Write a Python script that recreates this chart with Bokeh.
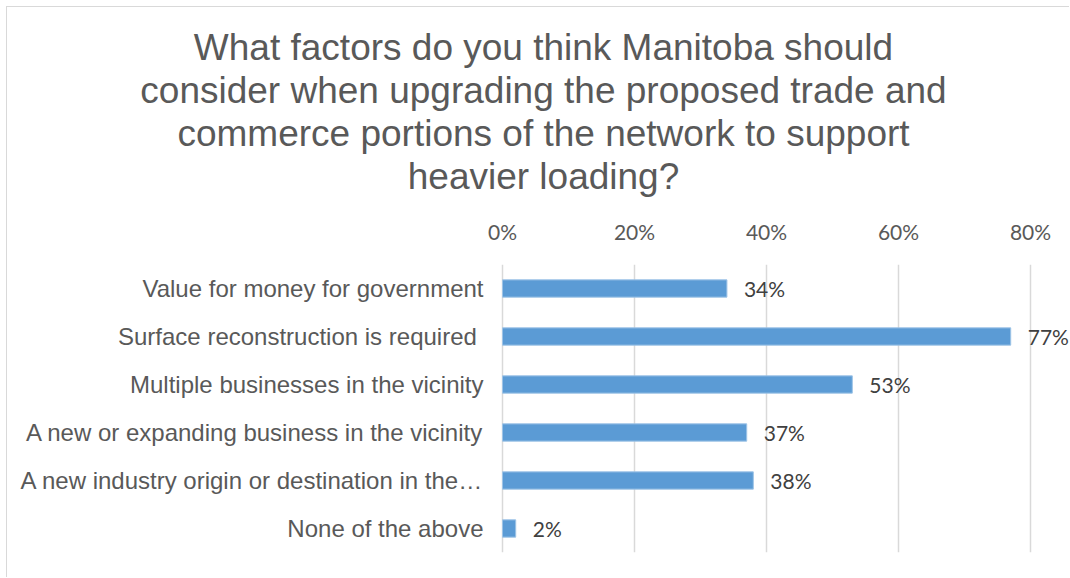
from bokeh.plotting import figure
from bokeh.models import FactorRange, FixedTicker, Range1d, Title
from bokeh.embed import file_html
from bokeh.resources import INLINE
from bokeh.core.properties import value

title_lines = [
    "What factors do you think Manitoba should",
    "consider when upgrading the proposed trade and",
    "commerce portions of the network to support",
    "heavier loading?",
]
categories = [
    "Value for money for government",
    "Surface reconstruction is required ",
    "Multiple businesses in the vicinity",
    "A new or expanding business in the vicinity",
    "A new industry origin or destination in the\u2026",
    "None of the above",
]
values = [34, 77, 53, 37, 38, 2]
value_labels = [f"{v}%" for v in values]
tick_values = [0, 20, 40, 60, 80]
tick_labels = ["0%", "20%", "40%", "60%", "80%"]

p = figure(
    width=1063, height=571,
    y_range=FactorRange(factors=list(reversed(categories)), range_padding=0),
    x_range=Range1d(-73.64, 86.06),
    x_axis_location="above",
    output_backend="svg", toolbar_location=None,
    min_border_left=9, min_border_right=0, min_border_top=257, min_border_bottom=26,
    margin=(6, 0, 0, 6),
    styles={"border-left": "1px solid #d9d9d9", "border-top": "1px solid #d9d9d9"},
)
p.outline_line_color = None
p.background_fill_color = "white"
p.border_fill_color = "white"

# title lines, bottom line first (later additions stack further up)
for line in reversed(title_lines):
    p.add_layout(Title(text=line, align="center",
                       text_font="Liberation Sans", text_font_size="37px",
                       text_font_style="normal", text_color="#595959",
                       standoff=0), "above")

p.hbar(y=categories, right=values, left=0, height=0.36,
       fill_color="#5B9BD5", line_color="#9DC3E6", line_width=1)
p.text(x=values, y=categories, text=value_labels, x_offset=17,
       text_baseline="middle", text_align="left",
       text_font=value("Lato"), text_font_size="21px", text_color="#404040")
p.text(x=[0] * len(categories), y=categories, text=categories, x_offset=-19,
       text_baseline="middle", text_align="right",
       text_font=value("Liberation Sans"), text_font_size="24px", text_color="#595959")

# x axis on top
xa = p.xaxis[0]
xa.ticker = FixedTicker(ticks=tick_values)
xa.major_label_overrides = {t: l for t, l in zip(tick_values, tick_labels)}
xa.axis_line_color = None
xa.major_tick_line_color = None
xa.minor_tick_line_color = None
xa.major_label_text_font = "Lato"
xa.major_label_text_font_size = "21px"
xa.major_label_text_color = "#595959"
xa.major_label_standoff = 15
xa.axis_label = " "
xa.axis_label_text_font_size = "12px"
xa.axis_label_standoff = 2

p.yaxis.visible = False

p.xgrid.ticker = FixedTicker(ticks=tick_values)
p.xgrid.grid_line_color = "#d9d9d9"
p.xgrid.grid_line_width = 1.5
p.ygrid.grid_line_color = None

open("out.html", "w").write(file_html(p, INLINE))
